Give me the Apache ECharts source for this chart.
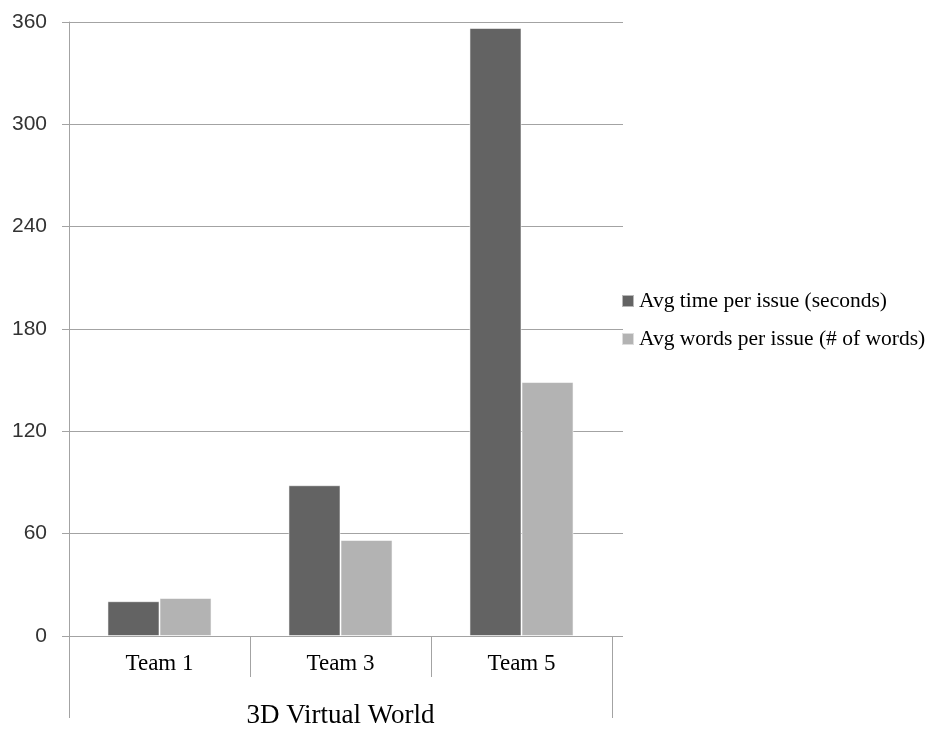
<!DOCTYPE html>
<html>
<head>
<meta charset="utf-8">
<script src="https://cdn.jsdelivr.net/npm/echarts@6/dist/echarts.min.js"></script>
<style>html,body{margin:0;padding:0;background:#fff;}#c{width:936px;height:729px;}</style>
</head>
<body>
<div id="c"></div>
<script>
const categories = ['Team 1', 'Team 3', 'Team 5'];
const groupLabel = ['3D Virtual World'];
const seriesNames = ['Avg time per issue (seconds)', 'Avg words per issue (# of words)'];
const timeValues = [20.4, 88.4, 356.5];
const wordValues = [22.3, 56.3, 148.9];
const yTicks = [0, 60, 120, 180, 240, 300, 360];

const chart = echarts.init(document.getElementById('c'), null, {renderer: 'canvas'});
const lineCol = '#a3a3a3';
const option = {
  animation: false,
  backgroundColor: '#ffffff',
  grid: [
    {left: 69, right: 324, top: 22, bottom: 93},
    {left: 69, right: 313, top: 22, bottom: 93}
  ],
  legend: {
    left: 621, top: 290, orient: 'vertical', padding: 0,
    itemWidth: 12, itemHeight: 12, itemGap: 16, icon: 'rect',
    textStyle: {fontFamily: 'Liberation Serif', fontSize: 21.5, color: '#000', lineHeight: 21},
    data: seriesNames
  },
  xAxis: [
    {
      type: 'category', gridIndex: 0, data: categories, position: 'bottom',
      axisLine: {show: false},
      axisTick: {show: true, length: 41, interval: 0, lineStyle: {color: lineCol, width: 1}},
      axisLabel: {fontFamily: 'Liberation Serif', fontSize: 23, color: '#000', margin: 16, lineHeight: 23},
      splitLine: {show: false}
    },
    {
      type: 'category', gridIndex: 0, data: groupLabel, position: 'bottom',
      axisLine: {show: false},
      axisTick: {show: true, length: 82, interval: 0, lineStyle: {color: lineCol, width: 1}},
      axisLabel: {fontFamily: 'Liberation Serif', fontSize: 27, color: '#000', margin: 66, lineHeight: 27},
      splitLine: {show: false}
    },
    {type: 'value', gridIndex: 1, show: false, min: 0, max: 1}
  ],
  yAxis: [
    {
      type: 'value', gridIndex: 0, min: 0, max: 360, interval: 60,
      axisLine: {show: true, lineStyle: {color: lineCol, width: 1}},
      axisTick: {show: true, length: 7, lineStyle: {color: lineCol, width: 1}},
      axisLabel: {fontFamily: 'Liberation Sans', fontSize: 21, color: '#333', margin: 22,
        formatter: function (v) { return yTicks.indexOf(v) >= 0 ? String(v) : ''; }},
      splitLine: {show: false}
    },
    {
      type: 'value', gridIndex: 1, min: 0, max: 360, interval: 60,
      axisLine: {show: false}, axisTick: {show: false}, axisLabel: {show: false},
      splitLine: {show: true, lineStyle: {color: lineCol, width: 1}}
    }
  ],
  series: [
    {
      name: seriesNames[0], type: 'bar', xAxisIndex: 0, yAxisIndex: 0,
      data: timeValues, barGap: '0%', barCategoryGap: '42.5%',
      itemStyle: {color: '#636363', borderColor: 'rgba(255,255,255,0.55)', borderWidth: 1}
    },
    {
      name: seriesNames[1], type: 'bar', xAxisIndex: 0, yAxisIndex: 0,
      data: wordValues, barGap: '0%', barCategoryGap: '42.5%',
      itemStyle: {color: '#b3b3b3', borderColor: 'rgba(255,255,255,0.55)', borderWidth: 1}
    }
  ]
};
chart.setOption(option);
</script>
</body>
</html>
